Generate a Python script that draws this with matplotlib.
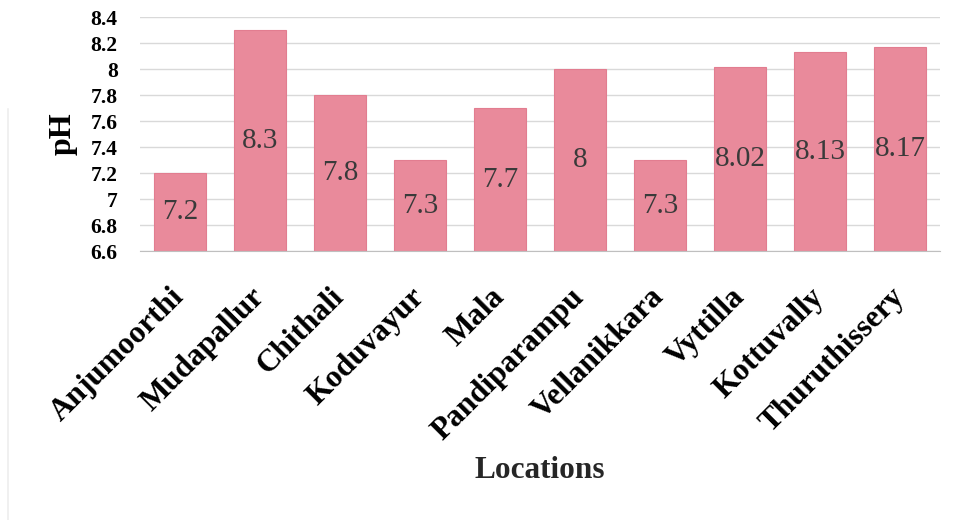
import matplotlib
matplotlib.use("Agg")
import matplotlib.pyplot as plt
from matplotlib.lines import Line2D

plt.rcParams["font.family"] = ["Liberation Serif", "DejaVu Serif"]

locations = ["Anjumoorthi", "Mudapallur", "Chithali", "Koduvayur", "Mala",
             "Pandiparampu", "Vellanikkara", "Vyttilla", "Kottuvally", "Thuruthissery"]
ph_values = [7.2, 8.3, 7.8, 7.3, 7.7, 8, 7.3, 8.02, 8.13, 8.17]
value_labels = ["7.2", "8.3", "7.8", "7.3", "7.7", "8", "7.3", "8.02", "8.13", "8.17"]
y_ticks = [6.6, 6.8, 7.0, 7.2, 7.4, 7.6, 7.8, 8.0, 8.2, 8.4]
y_tick_labels = ["6.6", "6.8", "7", "7.2", "7.4", "7.6", "7.8", "8", "8.2", "8.4"]

y_min, y_max = 6.6, 8.4
bar_color = "#E98A9B"

fig = plt.figure(figsize=(9.65, 5.2), dpi=100)
ax = fig.add_axes([0.145, 0.517, 0.829, 0.45])

x = list(range(len(locations)))
ax.bar(x, ph_values, width=0.65, color=bar_color, edgecolor="#E27D90",
       linewidth=0.8, zorder=2)

for xi, v, lab in zip(x, ph_values, value_labels):
    ax.text(xi, (y_min + v) / 2, lab, ha="center", va="center",
            fontsize=21, color="#3A3A3A", zorder=3)

ax.set_xlim(-0.5, len(locations) - 0.5)
ax.set_ylim(y_min, y_max)
ax.set_yticks(y_ticks)
ax.set_yticklabels(y_tick_labels, fontsize=15.5, fontweight="bold")
ax.set_xticks(x)
ax.set_xticklabels(locations, rotation=45, ha="right", va="center",
                   rotation_mode="anchor", fontsize=22.5, fontweight="bold")
ax.tick_params(axis="y", length=0, pad=16)
ax.tick_params(axis="x", length=0, pad=30)

ax.grid(axis="y", color="#D9D9D9", linewidth=1, zorder=0)
ax.set_axisbelow(True)
for side in ["top", "right", "left"]:
    ax.spines[side].set_visible(False)
ax.spines["bottom"].set_color("#BFBFBF")

ax.set_ylabel("pH", fontsize=23, fontweight="bold")
ax.yaxis.set_label_coords(-0.078, 0.5)
fig.text(0.559, 0.096, "Locations", ha="center", va="center",
         fontsize=22.5, fontweight="bold", color="#262626")

# faint frame edge on the left
fig.add_artist(Line2D([0.0085, 0.0085], [0.0, 0.79], color="#EEEEEE",
                      linewidth=1.2, transform=fig.transFigure))

fig.savefig("out.png", dpi=100, facecolor="white")
